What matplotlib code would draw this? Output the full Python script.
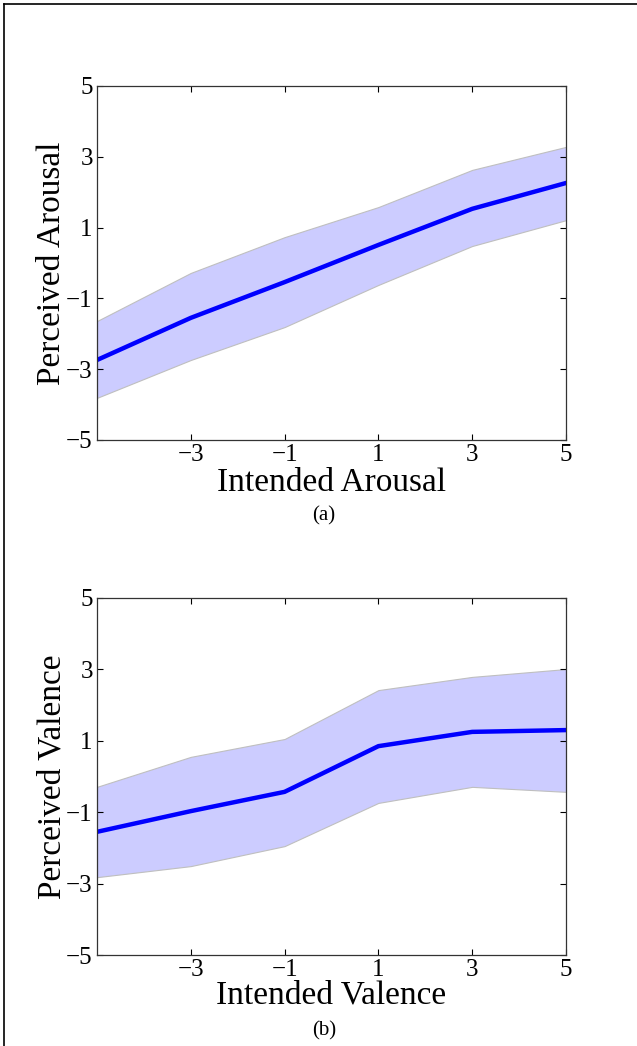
import numpy as np
import matplotlib.pyplot as plt
from matplotlib.lines import Line2D

plt.rcParams['font.family'] = ['Liberation Serif', 'DejaVu Serif']

intended = [-5, -3, -1, 1, 3, 5]

arousal_mean = [-2.74, -1.55, -0.54, 0.51, 1.53, 2.26]
arousal_hi = [-1.64, -0.28, 0.73, 1.58, 2.63, 3.28]
arousal_lo = [-3.81, -2.74, -1.81, -0.62, 0.48, 1.21]

valence_mean = [-1.55, -0.97, -0.43, 0.85, 1.25, 1.30]
valence_hi = [-0.29, 0.55, 1.05, 2.42, 2.79, 3.01]
valence_lo = [-2.82, -2.51, -1.95, -0.74, -0.29, -0.43]

xticks = [-3, -1, 1, 3, 5]
yticks = [-5, -3, -1, 1, 3, 5]

W, H = 637, 1046
fig = plt.figure(figsize=(W / 100, H / 100), dpi=100)

# (mean, lo, hi, xlabel, ylabel, tag, axes top px, axes bottom px, xlabel baseline px, tag centre px)
panels = [
    (arousal_mean, arousal_lo, arousal_hi, 'Intended Arousal', 'Perceived Arousal', '(a)', 86, 440, 491, 516),
    (valence_mean, valence_lo, valence_hi, 'Intended Valence', 'Perceived Valence', '(b)', 598, 955, 1004, 1031),
]

for mean, lo, hi, xl, yl, tag, top, bot, xl_base, tag_y in panels:
    hgt = bot - top
    ax = fig.add_axes([97 / W, 1 - bot / H, (566 - 97) / W, hgt / H])
    ax.fill_between(intended, lo, hi, facecolor=(0.8, 0.8, 1.0), edgecolor=(0.75, 0.75, 0.75), linewidth=0.8)
    ax.plot(intended, mean, color=(0, 0, 1), linewidth=3.2)
    ax.set_xlim(-5, 5)
    ax.set_ylim(-5, 5)
    ax.set_xticks(xticks)
    ax.set_yticks(yticks)
    ax.tick_params(direction='in', top=True, right=True, labelsize=18, length=4, width=0.8, pad=3)
    for s in ax.spines.values():
        s.set_linewidth(0.9)
        s.set_color('#333333')
    ax.set_xlabel(xl, fontsize=24)
    ax.xaxis.label.set_va('baseline')
    ax.xaxis.set_label_coords(0.5, -(xl_base - bot) / hgt)
    ax.set_ylabel(yl, fontsize=24)
    ax.yaxis.label.set_va('center')
    ax.yaxis.set_label_coords(-(97 - 52) / (566 - 97), 0.5)
    fig.text(324 / W, 1 - tag_y / H, tag, ha='center', va='center', fontsize=15)

# page frame
fig.add_artist(Line2D([4 / W, 4 / W], [0, 1 - 4 / H], color='black', linewidth=1.2))
fig.add_artist(Line2D([4 / W, 1], [1 - 4 / H, 1 - 4 / H], color='black', linewidth=1.2))

fig.savefig('out.png', dpi=100)
